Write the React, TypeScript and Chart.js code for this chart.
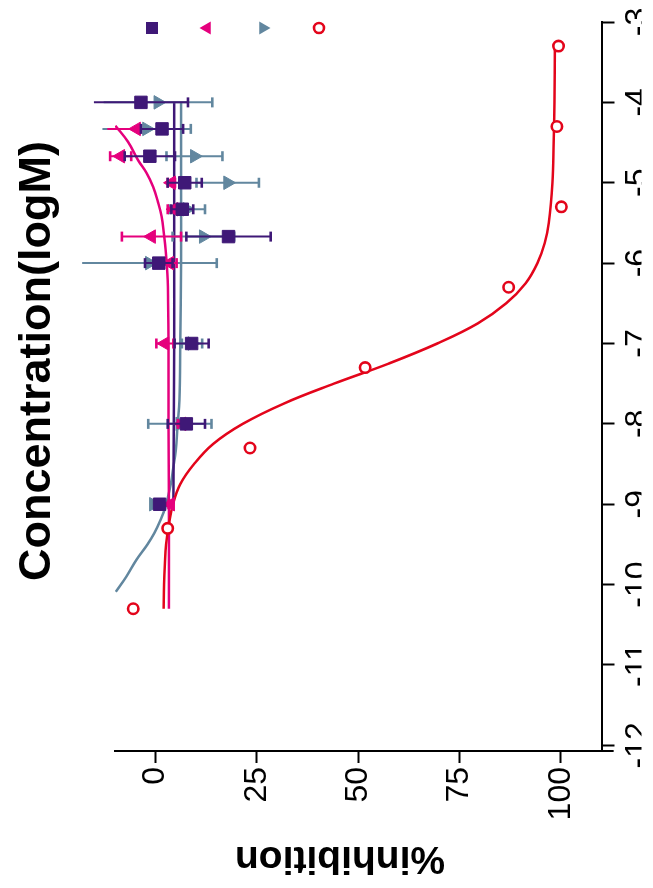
import React, { useEffect, useRef } from 'react';
import { Chart, registerables } from 'chart.js';

Chart.register(...registerables);

// ---------- data ----------
// x = %inhibition, y = Concentration (logM)
const X_TICKS = [0, 25, 50, 75, 100];
const Y_TICKS = [-12, -11, -10, -9, -8, -7, -6, -5, -4, -3];

// red open circles
const RED_LOGM = [-10.3, -9.3, -8.3, -7.3, -6.3, -5.3, -4.3, -3.3];
const RED_INH = [-5.5, 3.0, 23.3, 51.7, 87.1, 100.1, 99.0, 99.4];

// purple squares
const CONC = [-9, -8, -7, -6, -5.67, -5.33, -5, -4.67, -4.33, -4];
const PURPLE_MEAN = [1.0, 7.6, 8.9, 0.8, 18.0, 6.6, 7.2, -1.4, 1.6, -3.6];
const PURPLE_ERR = [0, 4.6, 4.2, 3.4, 10.4, 2.7, 4.2, 6.2, 5.2, 11.6];

// magenta left triangles
const MAGENTA_CONC = [-9, -8, -7, -6, -5.67, -5.33, -5, -4.67, -4.33];
const MAGENTA_MEAN = [3.7, 6.5, 2.3, 3.5, -1.0, 4.5, 3.9, -8.6, -4.7];
const MAGENTA_ERR = [0.5, 1.0, 2.1, 1.7, 7.3, 1.5, 0.9, 2.6, 7.2];

// blue-grey right triangles
const BLUE_MEAN = [-0.5, 6.0, 9.0, -1.5, 11.8, 7.8, 17.8, 9.6, -2.2, 0.6];
const BLUE_ERR = [0.5, 7.8, 2.5, 16.6, 7.6, 4.4, 7.7, 6.9, 10.9, 13.4];

// fitted curves
const RED_FIT_LOGM = [-10.3, -10.0, -9.75, -9.5, -9.25, -9.0, -8.75, -8.5, -8.25, -8.0, -7.75, -7.5, -7.25, -7.0, -6.75, -6.5, -6.25, -6.0, -5.75, -5.5, -5.0, -4.5, -4.0, -3.3];
const RED_FIT_INH = [2.0, 2.1, 2.3, 2.6, 3.3, 4.3, 6.1, 9.5, 14.2, 21.5, 31.5, 44.0, 57.5, 69.5, 79.5, 86.5, 91.3, 94.2, 96.0, 97.0, 97.9, 98.2, 98.4, 98.5];

const MAGENTA_FIT_LOGM = [-10.3, -9.0, -8.0, -7.0, -6.5, -6.21, -5.84, -5.63, -5.42, -5.24, -5.05, -4.88, -4.72, -4.49, -4.29];
const MAGENTA_FIT_INH = [3.3, 3.3, 3.2, 3.2, 3.1, 3.0, 2.5, 2.05, 1.5, 0.6, -0.6, -2.2, -4.3, -6.8, -9.9];

const PURPLE_FIT_LOGM = [-9, -8, -7, -6, -5, -4];
const PURPLE_FIT_INH = [4.4, 4.5, 4.6, 4.6, 4.6, 4.6];

const BLUE_FIT_LOGM = [-10.09, -9.9, -9.69, -9.5, -9.36, -9.2, -9.04, -8.74, -8.57, -8.33, -8.04, -7.7, -7.0, -6.0, -5.0, -4.0];
const BLUE_FIT_INH = [-9.8, -7.2, -4.7, -2.0, -0.3, 1.2, 2.4, 3.8, 4.3, 5.0, 5.4, 5.9, 6.1, 6.3, 6.3, 6.3];

const X_TITLE = '%inhibition';
const Y_TITLE = 'Concentration(logM)';

// ---------- style ----------
const PURPLE = '#3f1877';
const MAGENTA = '#e5007d';
const BLUE = '#62879f';
const RED = '#e3051b';
const FONT = "'Liberation Sans', Arial, Helvetica, sans-serif";

function pts(logm: number[], inh: number[]) {
  return inh.map((v, i) => ({ x: v, y: logm[i] }));
}

function errSegments(conc: number[], mean: number[], err: number[]) {
  const out: { x: number; y: number }[] = [];
  conc.forEach((c, i) => {
    out.push({ x: mean[i] - err[i], y: c }, { x: mean[i] + err[i], y: c }, { x: NaN, y: NaN });
  });
  return out;
}

function errDataset(conc: number[], mean: number[], err: number[], color: string, order: number) {
  return {
    data: errSegments(conc, mean, err),
    showLine: true,
    spanGaps: false,
    clip: false,
    borderColor: color,
    borderWidth: 2,
    tension: 0,
    pointStyle: 'line',
    pointRotation: 90,
    pointRadius: 5,
    pointBorderWidth: 2.6,
    pointBorderColor: color,
    pointBackgroundColor: color,
    order,
  };
}

function curveDataset(logm: number[], inh: number[], color: string, order: number) {
  return {
    data: pts(logm, inh),
    showLine: true,
    borderColor: color,
    borderWidth: 2.5,
    pointRadius: 0,
    tension: 0.4,
    order,
  };
}

function drawTri(ctx: CanvasRenderingContext2D, x: number, y: number, r: number, rotDeg: number) {
  let rad = (rotDeg * Math.PI) / 180;
  ctx.beginPath();
  for (let k = 0; k < 3; k++) {
    const px = x + Math.sin(rad) * r;
    const py = y - Math.cos(rad) * r;
    if (k === 0) ctx.moveTo(px, py);
    else ctx.lineTo(px, py);
    rad += (2 * Math.PI) / 3;
  }
  ctx.closePath();
  ctx.fill();
}

const decorPlugin = {
  id: 'decor',
  afterDraw(chart: any) {
    const { ctx, chartArea, scales } = chart;
    const xs = scales.x;
    ctx.save();
    // extension of the bottom axis past the right axis
    ctx.strokeStyle = '#000';
    ctx.lineWidth = 2;
    ctx.beginPath();
    ctx.moveTo(chartArea.right, 751);
    ctx.lineTo(xs.getPixelForValue(113), 751);
    ctx.stroke();

    // y title (left, rotated)
    ctx.fillStyle = '#000';
    ctx.font = `bold 45px ${FONT}`;
    ctx.textAlign = 'center';
    ctx.textBaseline = 'alphabetic';
    ctx.save();
    ctx.translate(50, 361);
    ctx.rotate(-Math.PI / 2);
    ctx.fillText(Y_TITLE, 0, 0);
    ctx.restore();

    // x title (bottom, upside-down)
    ctx.font = `bold 39px ${FONT}`;
    ctx.save();
    ctx.translate(340, 847);
    ctx.rotate(Math.PI);
    ctx.fillText(X_TITLE, 0, 0);
    ctx.restore();

    // legend markers
    const ly = 28;
    ctx.fillStyle = PURPLE;
    ctx.fillRect(152 - 6, ly - 6, 12, 12);
    ctx.fillStyle = MAGENTA;
    drawTri(ctx, 207, ly, 7.5, -90);
    ctx.fillStyle = BLUE;
    drawTri(ctx, 263, ly, 7.5, 90);
    ctx.strokeStyle = RED;
    ctx.lineWidth = 2.6;
    ctx.fillStyle = '#fff';
    ctx.beginPath();
    ctx.arc(319, ly, 5, 0, Math.PI * 2);
    ctx.fill();
    ctx.stroke();
    ctx.restore();
  },
};

export default function App() {
  const ref = useRef<HTMLCanvasElement | null>(null);

  useEffect(() => {
    if (!ref.current) return;
    const datasets: any[] = [
      {
        data: pts(RED_LOGM, RED_INH),
        showLine: false,
        clip: false,
        pointStyle: 'circle',
        pointRadius: 5.2,
        pointBorderWidth: 2.6,
        pointBorderColor: RED,
        pointBackgroundColor: '#ffffff',
        order: 0,
      },
      {
        data: pts(CONC, PURPLE_MEAN),
        showLine: false,
        clip: false,
        pointStyle: 'rect',
        pointRadius: 8.8,
        pointBorderWidth: 1,
        pointBorderColor: PURPLE,
        pointBackgroundColor: PURPLE,
        order: 1,
      },
      errDataset(CONC, PURPLE_MEAN, PURPLE_ERR, PURPLE, 2),
      {
        data: pts(MAGENTA_CONC, MAGENTA_MEAN),
        showLine: false,
        clip: false,
        pointStyle: 'triangle',
        pointRotation: -90,
        pointRadius: 7.8,
        pointBorderWidth: 1,
        pointBorderColor: MAGENTA,
        pointBackgroundColor: MAGENTA,
        order: 3,
      },
      errDataset(MAGENTA_CONC, MAGENTA_MEAN, MAGENTA_ERR, MAGENTA, 4),
      {
        data: pts(CONC, BLUE_MEAN),
        showLine: false,
        clip: false,
        pointStyle: 'triangle',
        pointRotation: 90,
        pointRadius: 7.8,
        pointBorderWidth: 1,
        pointBorderColor: BLUE,
        pointBackgroundColor: BLUE,
        order: 5,
      },
      errDataset(CONC, BLUE_MEAN, BLUE_ERR, BLUE, 6),
      curveDataset(RED_FIT_LOGM, RED_FIT_INH, RED, 7),
      curveDataset(PURPLE_FIT_LOGM, PURPLE_FIT_INH, PURPLE, 8),
      curveDataset(MAGENTA_FIT_LOGM, MAGENTA_FIT_INH, MAGENTA, 9),
      curveDataset(BLUE_FIT_LOGM, BLUE_FIT_INH, BLUE, 10),
    ];

    const chart = new Chart(ref.current, {
      type: 'scatter',
      data: { datasets },
      options: {
        animation: false,
        responsive: false,
        maintainAspectRatio: false,
        events: [],
        layout: { padding: { left: 115, top: 22, right: 11.5, bottom: 37 } },
        plugins: { legend: { display: false }, tooltip: { enabled: false }, title: { display: false } },
        scales: {
          x: {
            type: 'linear',
            position: 'bottom',
            min: -10,
            max: 110,
            afterBuildTicks: (s: any) => {
              s.ticks = X_TICKS.map((v) => ({ value: v }));
            },
            afterFit: (s: any) => {
              s.height = 100;
            },
            ticks: {
              autoSkip: false,
              minRotation: 90,
              maxRotation: 90,
              padding: 4,
              color: '#000',
              font: { family: FONT, size: 32 },
            },
            grid: { display: true, drawOnChartArea: false, drawTicks: true, tickLength: 12, tickWidth: 2, tickColor: '#000' },
            border: { display: true, color: '#000', width: 2 },
          },
          y: {
            type: 'linear',
            position: 'right',
            min: -12.07,
            max: -3,
            afterBuildTicks: (s: any) => {
              s.ticks = Y_TICKS.map((v) => ({ value: v }));
            },
            afterFit: (s: any) => {
              s.width = 40;
            },
            ticks: {
              autoSkip: false,
              minRotation: 90,
              maxRotation: 90,
              crossAlign: 'center',
              padding: 1,
              color: '#000',
              font: { family: FONT, size: 32 },
            },
            grid: { display: true, drawOnChartArea: false, drawTicks: true, tickLength: 13, tickWidth: 2, tickColor: '#000' },
            border: { display: true, color: '#000', width: 2 },
          },
        },
      } as any,
      plugins: [decorPlugin],
    });
    return () => chart.destroy();
  }, []);

  return (
    <div style={{ position: 'absolute', left: 0, top: 0, width: 653, height: 888, background: '#fff' }}>
      <canvas ref={ref} width={653} height={888} style={{ display: 'block', width: 653, height: 888 }} />
    </div>
  );
}
